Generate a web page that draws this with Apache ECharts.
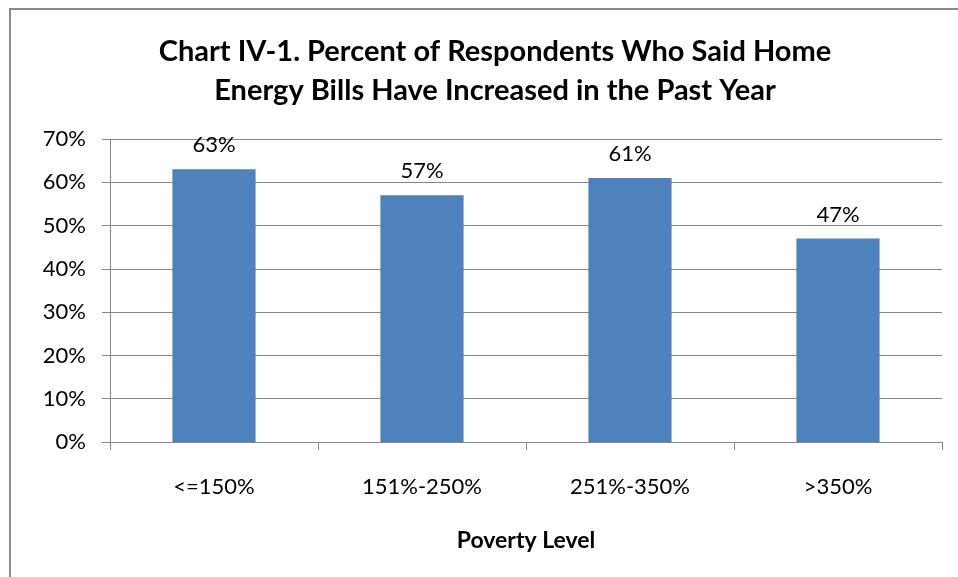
<!DOCTYPE html>
<html><head><meta charset="utf-8">
<script src="https://cdn.jsdelivr.net/npm/echarts@6/dist/echarts.min.js"></script>
<style>html,body{margin:0;padding:0;background:#fff}#c{width:958px;height:577px}</style>
</head><body><div id="c"></div>
<script>
const categories = ['<=150%', '151%-250%', '251%-350%', '>350%'];
const values = [63, 57, 61, 47];
const titleLines = ['Chart IV-1. Percent of Respondents Who Said Home', 'Energy Bills Have Increased in the Past Year'];
const xName = 'Poverty Level';
const font = 'Lato, "Open Sans", sans-serif';

const chart = echarts.init(document.getElementById('c'));
chart.setOption({
  animation: false,
  backgroundColor: '#fff',
  title: {
    text: titleLines.join('\n'),
    left: 490, top: 27, textAlign: 'center',
    textStyle: { fontFamily: font, fontSize: 29, fontWeight: 'bold', color: '#000', lineHeight: 39 }
  },
  graphic: [{
    type: 'rect', shape: { x: 10, y: 9, width: 1000, height: 700 },
    style: { fill: 'none', stroke: '#8a8a8a', lineWidth: 2 }, silent: true
  }],
  grid: { left: 110, right: 16, top: 139, bottom: 135 },
  xAxis: {
    type: 'category', data: categories,
    name: xName, nameLocation: 'middle', nameGap: 87,
    nameTextStyle: { fontFamily: font, fontSize: 23, fontWeight: 'bold', color: '#000' },
    axisLine: { lineStyle: { color: '#868686', width: 1 } },
    axisTick: { show: true, length: 8, lineStyle: { color: '#868686' } },
    axisLabel: { fontFamily: font, fontSize: 22, color: '#000', margin: 34 }
  },
  yAxis: {
    type: 'value', min: 0, max: 70, interval: 10,
    axisLine: { show: true, lineStyle: { color: '#868686' } },
    axisTick: { show: true, length: 8, lineStyle: { color: '#868686' } },
    splitLine: { lineStyle: { color: '#868686', width: 1 } },
    axisLabel: { fontFamily: font, fontSize: 22, color: '#000', margin: 24, formatter: v => v + '%' }
  },
  series: [{
    type: 'bar', data: values, barWidth: '40%',
    itemStyle: { color: '#4F81BD' },
    label: { show: true, position: 'top', distance: 13, fontFamily: font, fontSize: 22, color: '#000', formatter: p => p.value + '%' }
  }]
});
</script></body></html>
